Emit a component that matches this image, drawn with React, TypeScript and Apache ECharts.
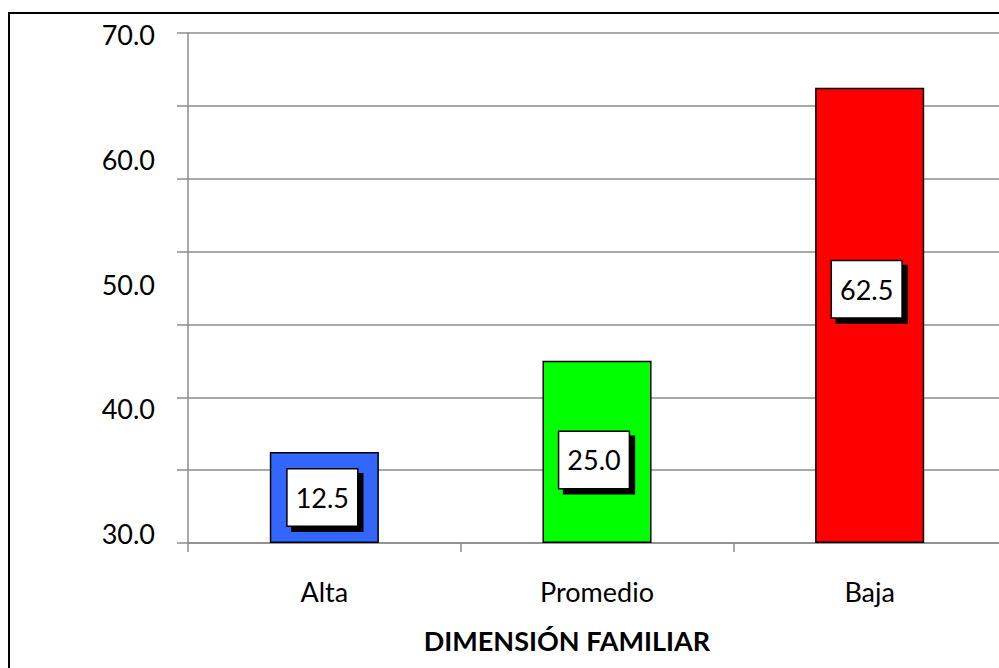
import React, { useEffect, useRef } from "react";
import * as echarts from "echarts";

const categories = ["Alta", "Promedio", "Baja"];
const values = [12.5, 25.0, 62.5];
const barColors = ["#3366FF", "#00FF00", "#FF0000"];
const yTickLabels = [30, 40, 50, 60, 70];
const axisTitle = "DIMENSIÓN FAMILIAR";

const labelOffsets = [[-2, 0], [-3, 8], [-3, -26]];

export default function App() {
  const ref = useRef<HTMLDivElement>(null);
  useEffect(() => {
    if (!ref.current) return;
    const chart = echarts.init(ref.current, null, { renderer: "svg" });
    const font = "Lato";
    const gray = "#8c8c8c";
    chart.setOption({
      animation: false,
      backgroundColor: "#ffffff",
      textStyle: { fontFamily: font },
      grid: { left: 188, right: 14, top: 33, bottom: 125, containLabel: false },
      xAxis: {
        type: "category",
        data: categories,
        axisLine: { show: true, lineStyle: { color: gray, width: 1.5 } },
        axisTick: { show: true, length: 9, lineStyle: { color: gray, width: 1.5 } },
        axisLabel: { fontFamily: font, fontSize: 27, color: "#000", margin: 35 },
      },
      yAxis: [
        {
          type: "value",
          min: 0,
          max: 70,
          interval: 10,
          axisLine: { show: true, lineStyle: { color: gray, width: 1.5 } },
          axisTick: { show: true, length: 11, lineStyle: { color: gray, width: 1.5 } },
          axisLabel: { show: false },
          splitLine: { show: true, lineStyle: { color: gray, width: 1.5 } },
        },
        {
          type: "value",
          position: "left",
          min: 29.2,
          max: 70.16,
          axisLine: { show: false },
          axisTick: { show: false },
          splitLine: { show: false },
          axisLabel: {
            show: true,
            customValues: yTickLabels,
            formatter: (v: number) => v.toFixed(1),
            fontFamily: font,
            fontSize: 27,
            color: "#000",
            margin: 33,
            showMinLabel: true,
            showMaxLabel: true,
          },
        },
      ],
      series: [
        {
          type: "bar",
          yAxisIndex: 0,
          barWidth: "40%",
          data: values.map((v, i) => ({
            value: v,
            itemStyle: { color: barColors[i] },
            label: { offset: labelOffsets[i] },
          })),
          itemStyle: { borderColor: "#000", borderWidth: 1.5 },
          label: {
            show: true,
            position: "inside",
            formatter: (p: any) => Number(p.value).toFixed(1),
            fontFamily: font,
            fontSize: 27,
            color: "#000",
            backgroundColor: "#fff",
            borderColor: "#000",
            borderWidth: 1.5,
            padding: [15, 8, 14, 8],
            shadowColor: "#000",
            shadowBlur: 0,
            shadowOffsetX: 5,
            shadowOffsetY: 5,
          },
        },
      ],
      graphic: [
        {
          type: "rect",
          shape: { x: 9, y: 13, width: 1200, height: 800 },
          style: { fill: "none", stroke: "#000", lineWidth: 2 },
          silent: true,
        },
        {
          type: "text",
          x: 567,
          y: 640,
          style: {
            text: axisTitle,
            fontFamily: font,
            fontSize: 27,
            fontWeight: "bold",
            fill: "#000",
            textAlign: "center",
            textVerticalAlign: "middle",
          },
        },
      ],
    });
    return () => chart.dispose();
  }, []);
  return (
    <div style={{ position: "fixed", left: 0, top: 0, width: 999, height: 668, overflow: "hidden", background: "#fff" }}>
      <div ref={ref} style={{ width: 1020, height: 668 }} />
    </div>
  );
}
